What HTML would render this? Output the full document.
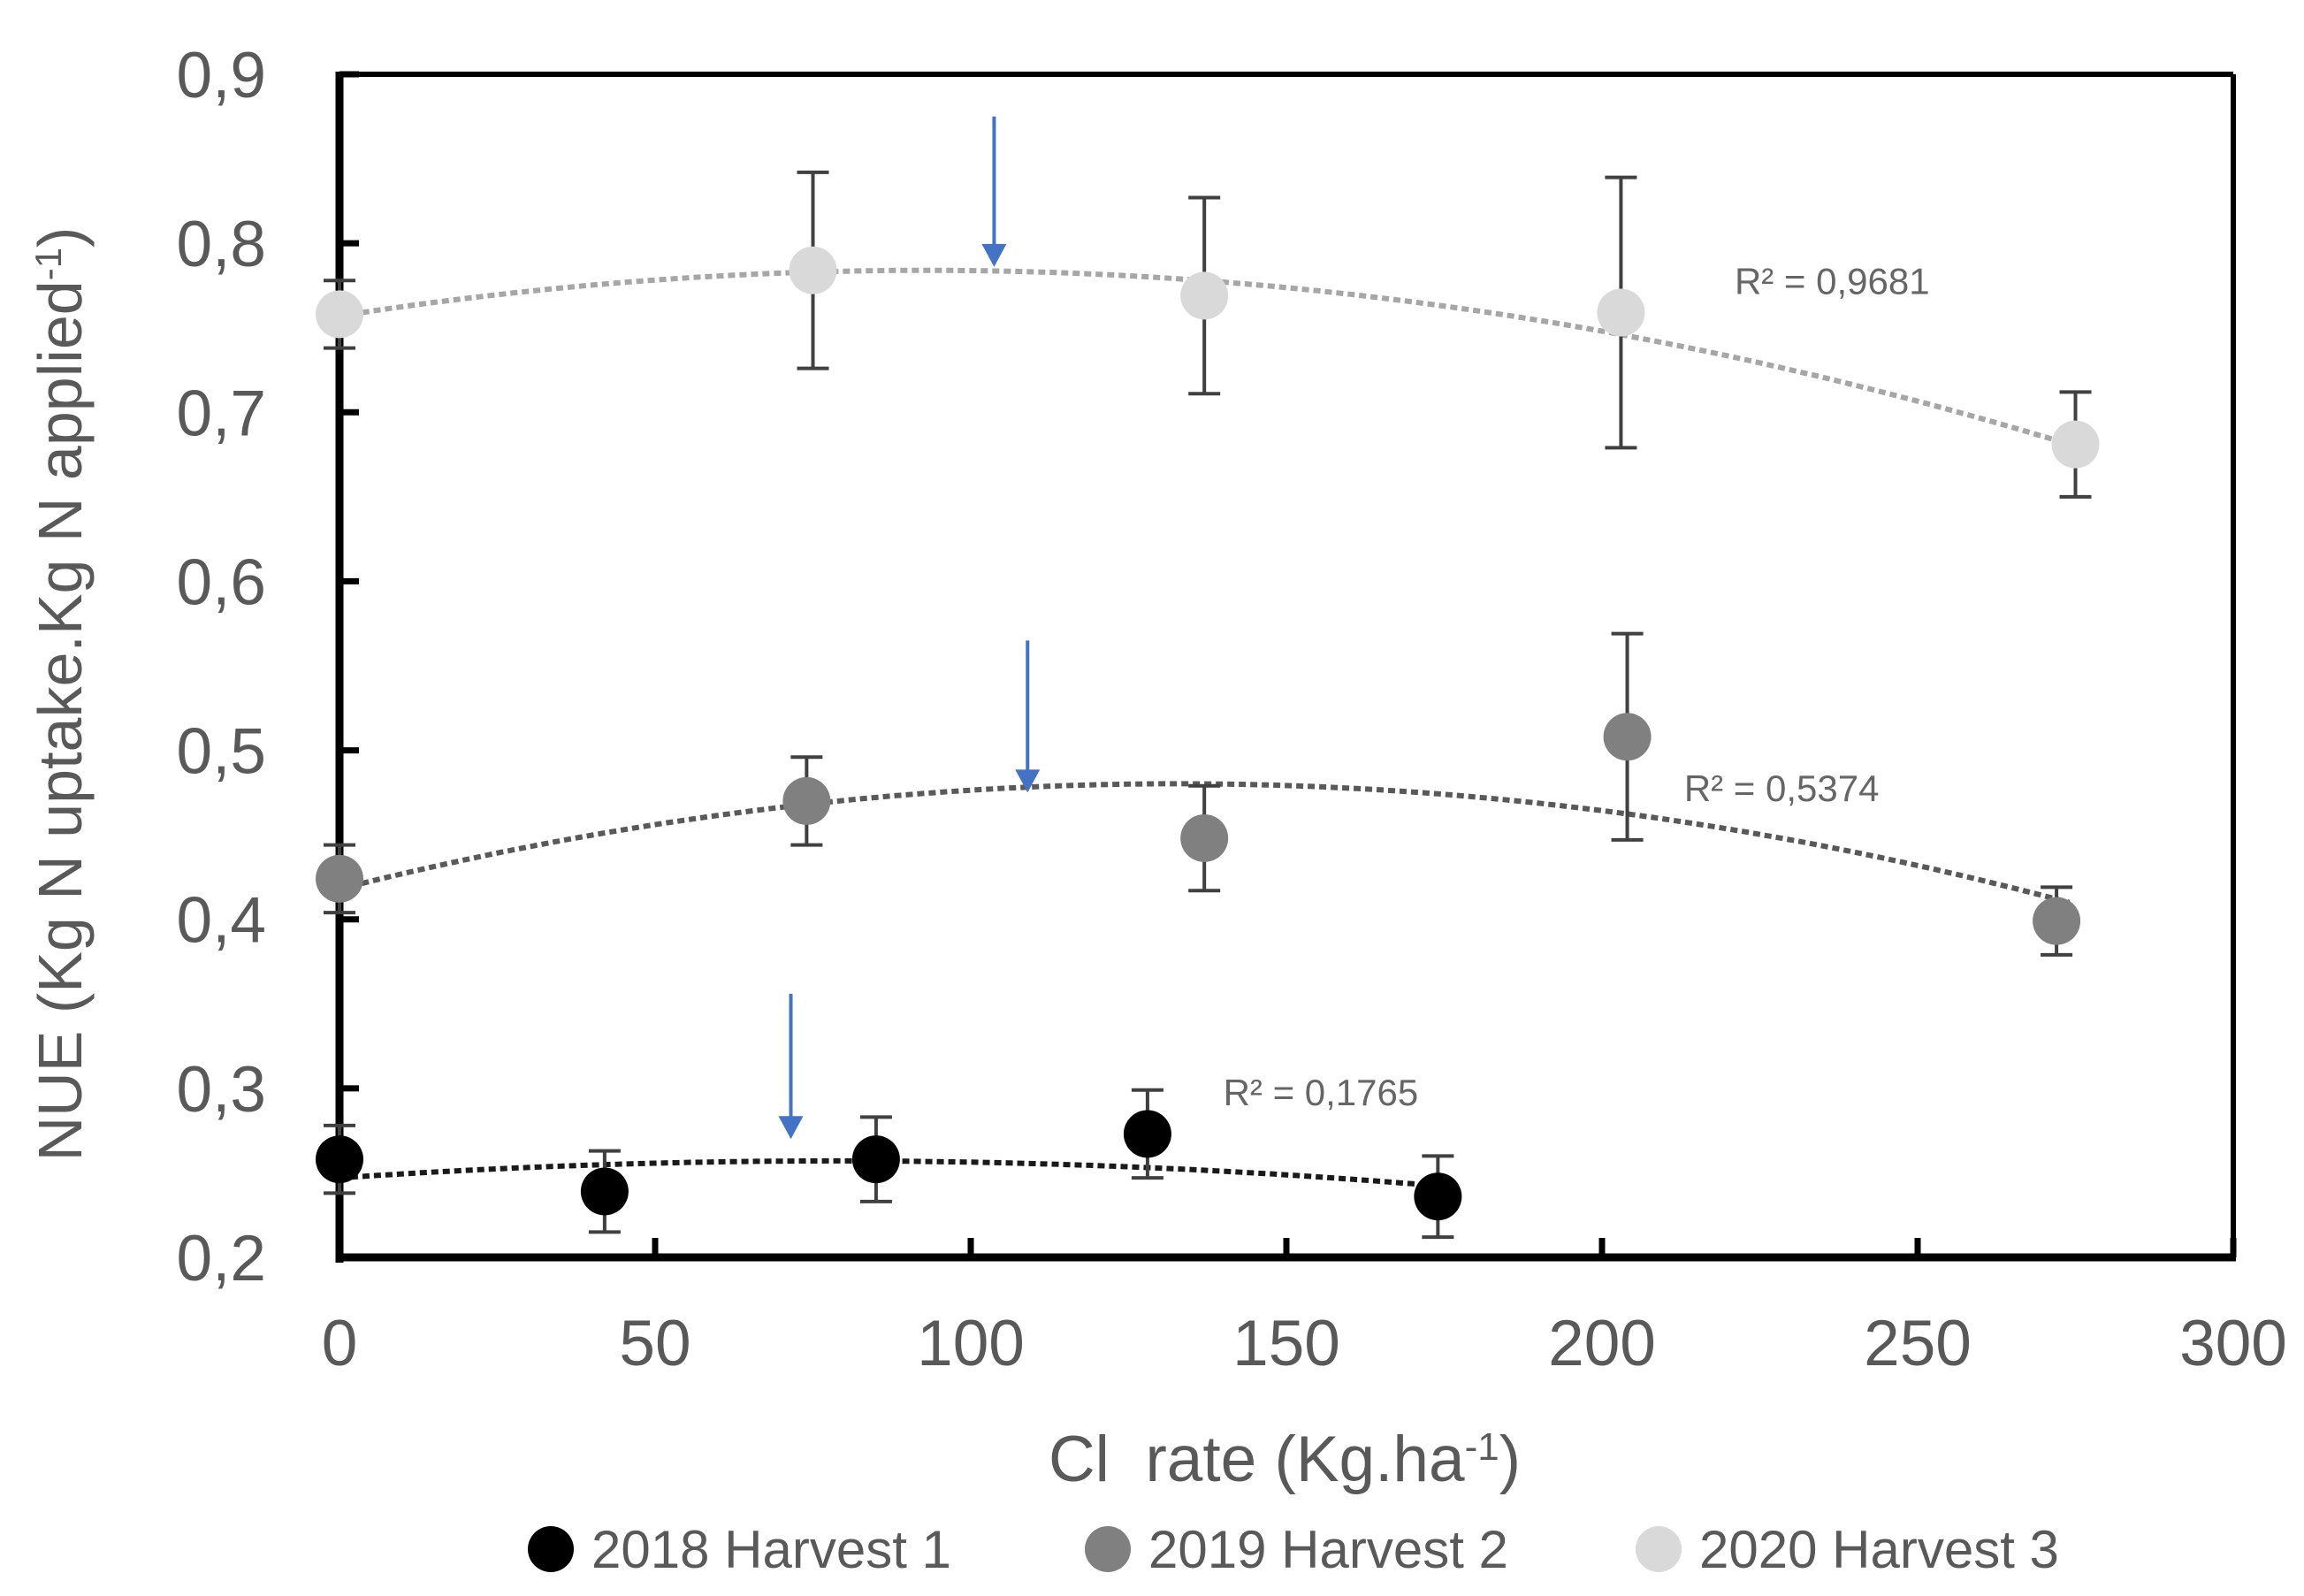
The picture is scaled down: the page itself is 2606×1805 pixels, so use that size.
<!DOCTYPE html>
<html><head><meta charset="utf-8"><style>
html,body{margin:0;padding:0;background:#fff;}
svg{display:block;font-family:"Liberation Sans",sans-serif;}
</style></head><body>
<svg id="chart" width="2606" height="1805" viewBox="0 0 2606 1805" xmlns="http://www.w3.org/2000/svg"></svg>
<script>
const xTicks = [0, 50, 100, 150, 200, 250, 300];
const yTicks = [0.2, 0.3, 0.4, 0.5, 0.6, 0.7, 0.8, 0.9];
const seriesNames = ["2018 Harvest 1", "2019 Harvest 2", "2020 Harvest 3"];
const x2018 = [0, 42, 85, 128, 174];
const y2018 = [0.258, 0.239, 0.258, 0.273, 0.236];
const e2018 = [0.02, 0.024, 0.025, 0.026, 0.024];
const x2019 = [0, 74, 137, 204, 272];
const y2019 = [0.424, 0.470, 0.448, 0.508, 0.399];
const e2019 = [0.02, 0.026, 0.031, 0.061, 0.02];
const x2020 = [0, 75, 137, 203, 275];
const y2020 = [0.758, 0.784, 0.769, 0.759, 0.681];
const e2020 = [0.02, 0.058, 0.058, 0.080, 0.031];
const trend2018 = [0.247, 2.557e-4, -1.6246e-6];
const trend2019 = [0.418, 9.366e-4, -3.525e-6];
const trend2020 = [0.757, 5.82e-4, -3.135e-6];
const trendRange = [175, 275, 275];
const r2Labels = ["R² = 0,1765", "R² = 0,5374", "R² = 0,9681"];
const r2Pos = [[140, 0.29], [213, 0.47], [221, 0.77]];
const arrowX = [71.5, 109, 103.7];
const arrowY = [[0.356, 0.27], [0.565, 0.475], [0.875, 0.786]];

const L=384, R=2526, T=84, B=1422;
const sx = v => L + (v - 0) / 300 * (R - L);
const sy = v => B - (v - 0.2) / 0.7 * (B - T);
const svg = document.getElementById('chart');
const NS = 'http://www.w3.org/2000/svg';
function mk(tag, attrs, parent) {
  const e = document.createElementNS(NS, tag);
  for (const k in attrs) e.setAttribute(k, attrs[k]);
  (parent || svg).appendChild(e);
  return e;
}
const grey = '#595959';

let el;
el = mk('line', {x1:L, y1:T, x2:R, y2:T, stroke:'#000', 'stroke-width':6});


el = mk('line', {x1:R, y1:T, x2:R, y2:B, stroke:'#000', 'stroke-width':6});


el = mk('line', {x1:L, y1:T-3, x2:L, y2:B+6, stroke:'#000', 'stroke-width':9});


el = mk('line', {x1:L-4, y1:B, x2:R+3, y2:B, stroke:'#000', 'stroke-width':9});



yTicks.forEach(v => {
  const t = mk('line', {x1:L, y1:sy(v), x2:L+22, y2:sy(v), stroke:'#000', 'stroke-width':7});
  
  
  const tx = mk('text', {x:301, y:sy(v)+26, 'text-anchor':'end', 'font-size':73, fill:grey});
  tx.textContent = v.toFixed(1).replace('.', ',');
  
  
});
xTicks.forEach(v => {
  const t = mk('line', {x1:sx(v), y1:B, x2:sx(v), y2:B-22, stroke:'#000', 'stroke-width':7});
  
  
  const tx = mk('text', {x:sx(v), y:1544, 'text-anchor':'middle', 'font-size':73, fill:grey});
  tx.textContent = String(v);
  
  
});

el = mk('text', {x:1453, y:1675, 'text-anchor':'middle', 'font-size':73, fill:grey});
el.innerHTML = 'Cl&#160; rate (Kg.ha<tspan baseline-shift="super" font-size="44">-1</tspan>)';


el = mk('text', {x:0, y:0, 'text-anchor':'middle', 'font-size':70, fill:grey, transform:'translate(92,785) rotate(-90)'});
el.innerHTML = 'NUE (Kg N uptake.Kg N applied<tspan baseline-shift="super" font-size="42">-1</tspan>)';



const colors = ['#000000', '#808080', '#d9d9d9'];
const lineColors = ['#1a1a1a', '#595959', '#a6a6a6'];
const xs = [x2018, x2019, x2020], ys = [y2018, y2019, y2020], es = [e2018, e2019, e2020];
const trends = [trend2018, trend2019, trend2020];

for (let s = 0; s < 3; s++) {
  const g = mk('g', {});
  
  
  const c = trends[s];
  let d = '';
  for (let v = 0; v <= trendRange[s]; v += 2) {
    const yy = c[0] + c[1]*v + c[2]*v*v;
    d += (v === 0 ? 'M' : 'L') + sx(v).toFixed(1) + ',' + sy(yy).toFixed(1);
  }
  const tl = mk('path', {d:d, fill:'none', stroke:lineColors[s], 'stroke-width':6, 'stroke-dasharray':'8 5'}, g);
  
  
  xs[s].forEach((xv, i) => {
    const cx = sx(xv), y1 = sy(ys[s][i] + es[s][i]), y2 = sy(ys[s][i] - es[s][i]);
    const eb = mk('path', {d:`M${cx},${y1}V${y2}M${cx-18},${y1}H${cx+18}M${cx-18},${y2}H${cx+18}`, stroke:'#404040', 'stroke-width':4, fill:'none'}, g);
    
    
  });
  xs[s].forEach((xv, i) => {
    const p = mk('circle', {cx:sx(xv), cy:sy(ys[s][i]), r:27, fill:colors[s]}, g);
    
    
  });
  const rt = mk('text', {x:sx(r2Pos[s][0]), y:sy(r2Pos[s][1]), 'font-size':42, fill:'#666'}, g);
  rt.textContent = r2Labels[s];
  
  
  const ax = sx(arrowX[s]), ay1 = sy(arrowY[s][0]), ay2 = sy(arrowY[s][1]);
  const ar = mk('path', {d:`M${ax},${ay1}V${ay2-18}`, stroke:'#4472c4', 'stroke-width':4, fill:'none'}, g);
  
  
  const ah = mk('path', {d:`M${ax-14},${ay2-26}L${ax},${ay2}L${ax+14},${ay2-26}Z`, fill:'#4472c4'}, g);
  
  
}

const legMarkX = [623, 1253, 1876];
for (let s = 0; s < 3; s++) {
  const lg = mk('g', {});
  
  
  mk('circle', {cx:legMarkX[s], cy:1752, r:26, fill:colors[s]}, lg);
  const t = mk('text', {x:legMarkX[s]+46, y:1773, 'font-size':60, fill:grey}, lg);
  t.textContent = seriesNames[s];
}
</script>
</body></html>
